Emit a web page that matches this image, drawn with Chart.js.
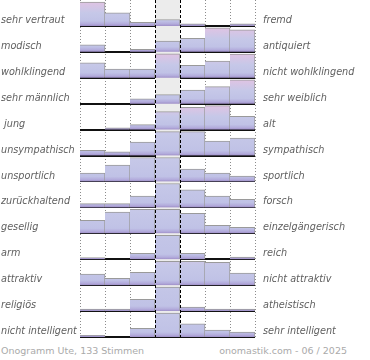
<!DOCTYPE html>
<html><head><meta charset="utf-8">
<script src="https://cdn.jsdelivr.net/npm/chart.js@4/dist/chart.umd.min.js"></script>
<style>
html,body{margin:0;padding:0;background:#fff;}
#wrap{position:relative;width:370px;height:340px;}
#foot{position:absolute;top:345px;left:0;width:370px;height:14px;font-family:"DejaVu Sans";font-size:9.5px;color:#aaaaaa;}
#foot span{position:absolute;top:0;white-space:nowrap;}
</style></head><body>
<div id="wrap"><canvas id="c"></canvas></div>
<div id="foot"><span style="left:1px">Onogramm Ute, 133 Stimmen</span><span style="right:23px">onomastik.com - 06 / 2025</span></div>
<script>
// 7-step scale columns
const columns = ['1','2','3','4','5','6','7'];
const leftLabels = ['sehr vertraut','modisch','wohlklingend','sehr männlich',' jung','unsympathisch','unsportlich','zurückhaltend','gesellig','arm','attraktiv','religiös','nicht intelligent'];
const rightLabels = ['fremd','antiquiert','nicht wohlklingend','sehr weiblich','alt','sympathisch','sportlich','forsch','einzelgängerisch','reich','nicht attraktiv','atheistisch','sehr intelligent'];
// relative bar heights per row (100 = full row height; larger values are cut off at the row top)
const vertraut      = [100, 55, 15, 27, 9, 0, 9];
const modisch       = [29, 0, 11, 45, 57, 100, 92];
const wohlklingend  = [62, 36, 36, 100, 52, 70, 99];
const maennlich     = [0, 0, 20, 38, 57, 71, 100];
const jung          = [0, 7, 21, 75, 93, 100, 55];
const sympathisch   = [22, 16, 56, 160, 130, 60, 73];
const sportlich     = [35, 68, 120, 170, 52, 35, 23];
const zurueck       = [16, 16, 47, 180, 73, 47, 34];
const gesellig      = [54, 89, 115, 170, 83, 33, 25];
const arm           = [7, 0, 25, 300, 25, 0, 9];
const attraktiv     = [46, 29, 54, 150, 110, 95, 50];
const religioes     = [8, 8, 49, 250, 17, 8, 8];
const intelligent   = [7, 0, 36, 200, 55, 29, 21];

const rows = [vertraut, modisch, wohlklingend, maennlich, jung, sympathisch, sportlich, zurueck, gesellig, arm, attraktiv, religioes, intelligent];
const ROW = 26, MAXH = 24, LABEL_OFF = 5.5;
const N = rows.length;
const baseOf = i => -(i + 1) * ROW;
const baseVals = rows.map((r, i) => baseOf(i));
const labelVals = rows.map((r, i) => baseOf(i) + LABEL_OFF);
const rowOfLabel = v => labelVals.findIndex(l => Math.abs(l - v) < 0.01);
const isBase = v => baseVals.some(b => Math.abs(b - v) < 0.01);
const shown = v => Math.min(v, 100) / 100 * MAXH;

const gradCache = {};
function rowGradient(chart, i) {
  if (!chart.chartArea) return '#c6c8e8';
  const y = chart.scales.y;
  const key = i + ':' + chart.chartArea.top + ':' + chart.chartArea.bottom;
  if (gradCache[key]) return gradCache[key];
  const span = Math.max(...rows[i]) / 100 * MAXH;
  const top = y.getPixelForValue(baseOf(i) + span), bot = y.getPixelForValue(baseOf(i));
  const h = bot - top;
  const g = chart.ctx.createLinearGradient(0, top, 0, bot);
  g.addColorStop(0, '#e0c3e3');
  g.addColorStop(0.45, '#c6c8e8');
  g.addColorStop(Math.max(0.5, 1 - 5 / h), '#c0c2e6');
  g.addColorStop(1 - 2 / h, '#b3acdc');
  g.addColorStop(1, '#9f8fc8');
  gradCache[key] = g;
  return g;
}

const datasets = rows.map((vals, i) => ({
  label: leftLabels[i],
  data: vals.map(v => [baseOf(i), baseOf(i) + shown(v)]),
  backgroundColor: ctx => rowGradient(ctx.chart, i),
  borderColor: '#9a9a9a',
  borderWidth: {top: 1, right: 1, left: 0, bottom: 0},
  borderSkipped: false,
  barPercentage: 1,
  categoryPercentage: 1,
  grouped: false
}));

const boundary = (xs, k) => {
  const a = xs.getPixelForValue(k - 1), b = xs.getPixelForValue(k);
  return (a + b) / 2;
};

const middlePlugin = {
  id: 'middle',
  beforeDatasetsDraw(chart) {
    const {ctx, chartArea, scales} = chart;
    const x1 = boundary(scales.x, 3), x2 = boundary(scales.x, 4);
    ctx.save();
    ctx.fillStyle = '#ececec';
    ctx.fillRect(x1, chartArea.top, x2 - x1, chartArea.bottom - chartArea.top);
    ctx.restore();
  },
  afterDatasetsDraw(chart) {
    const {ctx, chartArea, scales} = chart;
    ctx.save();
    ctx.strokeStyle = '#000';
    ctx.lineWidth = 1;
    ctx.setLineDash([3, 2]);
    [3, 4].forEach(k => {
      const xp = Math.round(boundary(scales.x, k)) + 0.5;
      ctx.beginPath();
      ctx.moveTo(xp, chartArea.top);
      ctx.lineTo(xp, chartArea.bottom);
      ctx.stroke();
    });
    ctx.restore();
  }
};

const tickFont = {family: 'DejaVu Sans', size: 9.7, style: 'italic'};
const noPad = s => { s.paddingTop = 0; s.paddingBottom = 0; };

new Chart(document.getElementById('c'), {
  type: 'bar',
  data: {labels: columns, datasets},
  plugins: [middlePlugin],
  options: {
    responsive: true,
    maintainAspectRatio: false,
    animation: false,
    layout: {padding: {left: 1, right: 0, top: 0, bottom: 3}},
    plugins: {legend: {display: false}, tooltip: {enabled: false}},
    scales: {
      x: {
        type: 'category',
        offset: true,
        grid: {
          offset: true,
          drawTicks: false,
          color: ctx => (ctx.index === 3 || ctx.index === 4) ? 'rgba(0,0,0,0)' : '#8c8c8c',
          lineWidth: 1
        },
        border: {display: false, dash: [1, 2]},
        ticks: {display: false}
      },
      y: {
        type: 'linear',
        position: 'left',
        min: -N * ROW,
        max: 0,
        z: 1,
        afterBuildTicks: s => { s.ticks = baseVals.concat(labelVals).sort((a, b) => b - a).map(v => ({value: v})); },
        afterFit: s => { s.width = 79; noPad(s); },
        grid: {
          drawTicks: false,
          lineWidth: 2,
          color: ctx => (ctx.tick && isBase(ctx.tick.value)) ? '#111111' : 'rgba(0,0,0,0)'
        },
        border: {display: false},
        ticks: {
          autoSkip: false,
          crossAlign: 'far',
          padding: 0,
          color: '#5f5f5f',
          font: tickFont,
          callback: v => { const r = rowOfLabel(v); return r >= 0 ? leftLabels[r] : ''; }
        }
      },
      y2: {
        type: 'linear',
        position: 'right',
        min: -N * ROW,
        max: 0,
        afterBuildTicks: s => { s.ticks = labelVals.map(v => ({value: v})); },
        afterFit: s => { s.width = 115; noPad(s); },
        grid: {display: false, drawTicks: false},
        border: {display: false},
        ticks: {
          autoSkip: false,
          crossAlign: 'near',
          padding: 8,
          color: '#5f5f5f',
          font: tickFont,
          callback: v => { const r = rowOfLabel(v); return r >= 0 ? rightLabels[r] : ''; }
        }
      }
    }
  }
});
</script>
</body></html>
